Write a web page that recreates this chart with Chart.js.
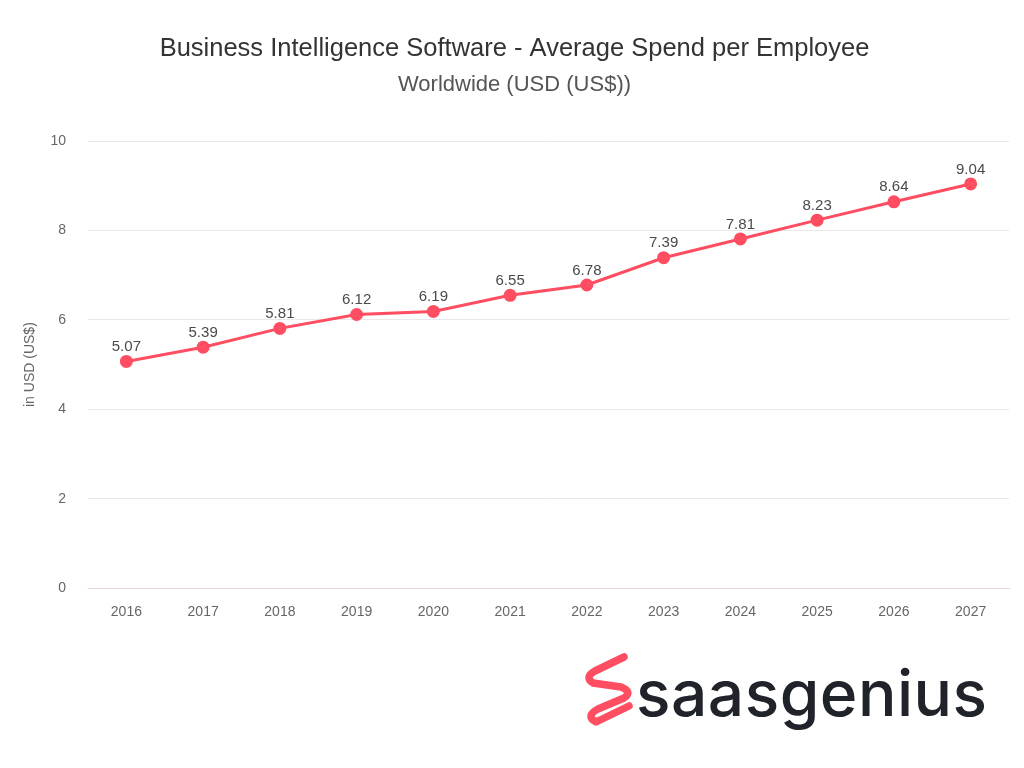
<!DOCTYPE html>
<html>
<head>
<meta charset="utf-8">
<script src="https://cdn.jsdelivr.net/npm/chart.js@4"></script>
<style>
  html, body { margin: 0; padding: 0; background: #fff; }
  #wrap { position: relative; width: 1024px; height: 768px; }
  #logo { position: absolute; left: 580px; top: 648px; width: 430px; height: 90px; }
  #logo span {
    position: absolute; left: 56px; top: 13px; line-height: 1;
    font-family: "Inter", "Noto Sans", sans-serif; font-weight: 500;
    font-size: 64px; color: #20232a; letter-spacing: 0.5px;
  }
</style>
</head>
<body>
<div id="wrap">
  <canvas id="chart" width="1024" height="768"></canvas>
  <div id="logo">
    <svg width="56" height="90" viewBox="580 648 56 90">
      <path d="M624 657 L595 671 Q584 677 593 683 L621 687 Q633 692 624 698 L598 709 Q585 716 596 722 L629 706"
        fill="none" stroke="#ff4d62" stroke-width="7.5" stroke-linecap="round" stroke-linejoin="round"/>
    </svg>
    <span>saasgenius</span>
  </div>
</div>
<script>
const years = ["2016", "2017", "2018", "2019", "2020", "2021", "2022", "2023", "2024", "2025", "2026", "2027"];
const spend = [5.07, 5.39, 5.81, 6.12, 6.19, 6.55, 6.78, 7.39, 7.81, 8.23, 8.64, 9.04];
const yTicks = [0, 2, 4, 6, 8, 10];

const lineColor = "#ff4d62";
const fontFamily = "'Liberation Sans', Arial, sans-serif";

// value labels above each point
const valueLabels = {
  id: "valueLabels",
  afterDatasetsDraw(chart) {
    const ctx = chart.ctx;
    const meta = chart.getDatasetMeta(0);
    ctx.save();
    ctx.font = "15px " + fontFamily;
    ctx.fillStyle = "#4a4a4a";
    ctx.textAlign = "center";
    ctx.textBaseline = "bottom";
    meta.data.forEach((pt, i) => {
      ctx.fillText(spend[i].toFixed(2), pt.x, pt.y - 7);
    });
    ctx.restore();
  },
};

const ctx = document.getElementById("chart").getContext("2d");
new Chart(ctx, {
  type: "line",
  data: {
    labels: years,
    datasets: [
      {
        data: spend,
        borderColor: lineColor,
        backgroundColor: lineColor,
        borderWidth: 3,
        pointRadius: 5,
        pointHoverRadius: 5,
        tension: 0,
      },
    ],
  },
  options: {
    responsive: false,
    animation: false,
    layout: { padding: { left: 20, right: 15, top: 0, bottom: 139 } },
    plugins: {
      legend: { display: false },
      tooltip: { enabled: false },
      title: {
        display: true,
        text: "Business Intelligence Software - Average Spend per Employee",
        color: "#333",
        font: { family: fontFamily, size: 25.5, weight: "normal" },
        padding: { top: 34, bottom: 7 },
      },
      subtitle: {
        display: true,
        text: "Worldwide (USD (US$))",
        color: "#555",
        font: { family: fontFamily, size: 22, weight: "normal" },
        padding: { top: 0, bottom: 43 },
      },
    },
    scales: {
      x: {
        offset: true,
        grid: { display: false },
        border: { color: "#ecd6da", width: 1 },
        ticks: { color: "#666", font: { family: fontFamily, size: 14 }, padding: 8 },
      },
      y: {
        min: 0,
        max: 10,
        afterBuildTicks(axis) {
          axis.ticks = yTicks.map((v) => ({ value: v }));
        },
        afterFit(axis) {
          axis.width = 68;
        },
        grid: { color: "#e8e8e8", drawTicks: false },
        border: { display: false },
        ticks: { color: "#666", font: { family: fontFamily, size: 14 }, padding: 22 },
        title: {
          display: true,
          text: "in USD (US$)",
          color: "#666",
          font: { family: fontFamily, size: 14 },
          padding: { top: 2, bottom: 0 },
        },
      },
    },
  },
  plugins: [valueLabels],
});
</script>
</body>
</html>
